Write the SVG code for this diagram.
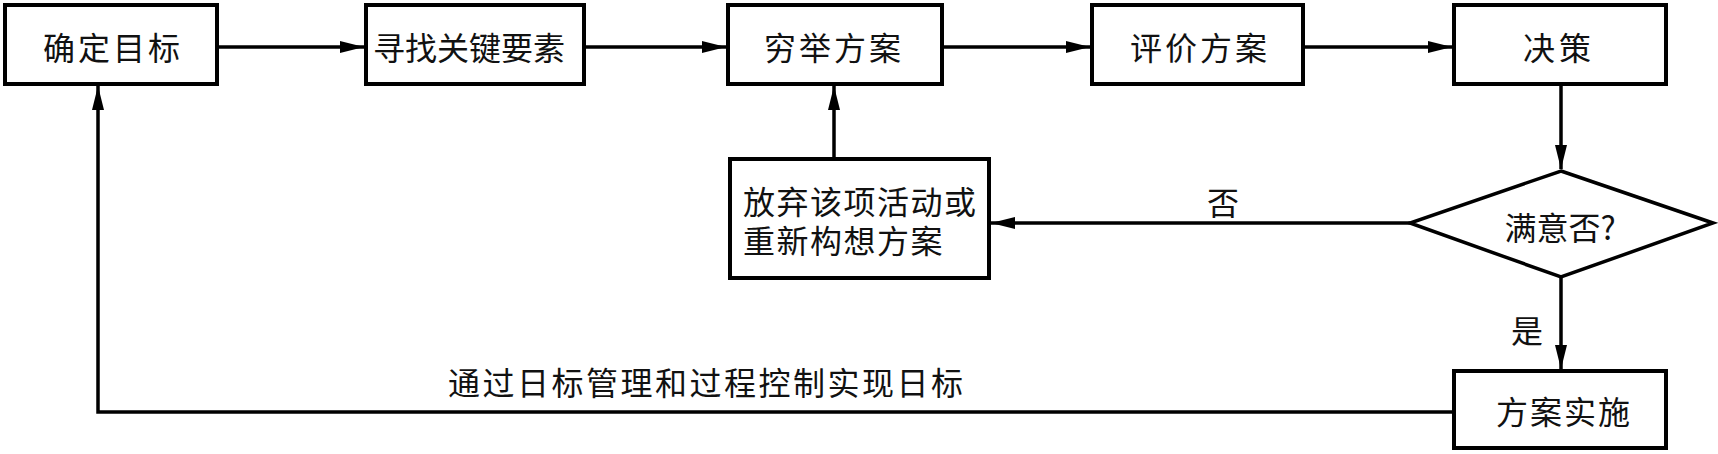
<svg xmlns="http://www.w3.org/2000/svg" width="1718" height="454" viewBox="0 0 1718 454">
<style>
.box{fill:#fff;stroke:#000;stroke-width:4}
.dia{fill:#fff;stroke:#000;stroke-width:3.5}
.lbl{font-family:"Noto Sans CJK SC","Noto Sans",sans-serif;font-size:32px;fill:#111}
.c{text-anchor:middle}
.conn{fill:none;stroke:#000;stroke-width:3.5}
</style>
<defs>
<marker id="ah" markerUnits="userSpaceOnUse" markerWidth="26" markerHeight="14" refX="24" refY="6" orient="auto">
<path d="M0,0 L24,6 L0,12 z" fill="#000"/>
</marker>
</defs>
<rect width="1718" height="454" fill="#fff"/>
<g id="connectors">
<path class="conn" d="M217,47 H364" marker-end="url(#ah)"/>
<path class="conn" d="M584,47 H726" marker-end="url(#ah)"/>
<path class="conn" d="M942,47 H1090" marker-end="url(#ah)"/>
<path class="conn" d="M1303,47 H1452" marker-end="url(#ah)"/>
<path class="conn" d="M1561,84 V169" marker-end="url(#ah)"/>
<path class="conn" d="M1410,223 H991" marker-end="url(#ah)"/>
<path class="conn" d="M834,159 V86" marker-end="url(#ah)"/>
<path class="conn" d="M1561,277 V369" marker-end="url(#ah)"/>
<path class="conn" d="M1454,412 H98 V86" marker-end="url(#ah)"/>
<text class="lbl c" x="1223" y="215">否</text>
<text class="lbl c" x="1527" y="343">是</text>
<text class="lbl" x="448" y="395" style="letter-spacing:2.5px">通过日标管理和过程控制实现日标</text>
</g>
<g id="n1"><rect class="box" x="5" y="5" width="212" height="79"/><text class="lbl c" x="113" y="60" style="letter-spacing:3px">确定目标</text></g>
<g id="n2"><rect class="box" x="366" y="5" width="218" height="79"/><text class="lbl" x="373" y="60">寻找关键要素</text></g>
<g id="n3"><rect class="box" x="728" y="5" width="214" height="79"/><text class="lbl c" x="834" y="60" style="letter-spacing:3px">穷举方案</text></g>
<g id="n4"><rect class="box" x="1092" y="5" width="211" height="79"/><text class="lbl c" x="1200" y="60" style="letter-spacing:3px">评价方案</text></g>
<g id="n5"><rect class="box" x="1454" y="5" width="212" height="79"/><text class="lbl c" x="1559" y="60" style="letter-spacing:4px">决策</text></g>
<g id="n6"><rect class="box" x="730" y="159" width="259" height="119"/><text class="lbl" x="743" y="214" style="letter-spacing:1.5px">放弃该项活动或</text><text class="lbl" x="743" y="253" style="letter-spacing:1.5px">重新构想方案</text></g>
<g id="n7"><polygon class="dia" points="1561,171 1713,223 1561,277 1410,223"/><text class="lbl c" x="1560" y="240">满意否?</text></g>
<g id="n8"><rect class="box" x="1454" y="371" width="212" height="77"/><text class="lbl c" x="1564" y="424" style="letter-spacing:2px">方案实施</text></g>
</svg>
